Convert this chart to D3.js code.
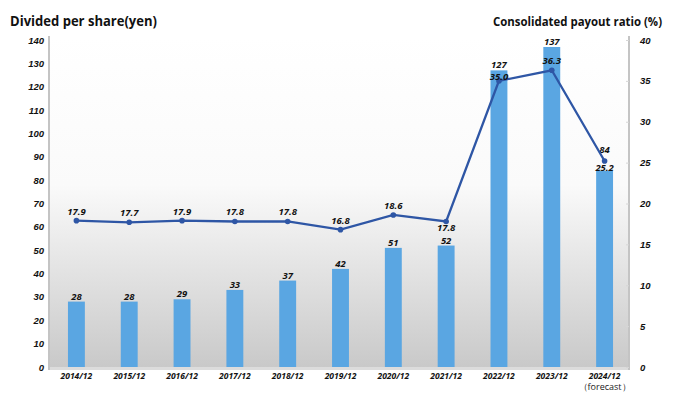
<!DOCTYPE html>
<html>
<head>
<meta charset="utf-8">
<script src="https://cdn.jsdelivr.net/npm/d3@7"></script>
<style>
  body { margin: 0; background: #fff; }
  svg { display: block; font-family: "Open Sans", sans-serif; }
</style>
</head>
<body>
<svg id="chart" width="682" height="400"></svg>
<script>
// data
const years = ["2014/12", "2015/12", "2016/12", "2017/12", "2018/12", "2019/12",
  "2020/12", "2021/12", "2022/12", "2023/12", "2024/12"];
const dividends = [28, 28, 29, 33, 37, 42, 51, 52, 127, 137, 84];
const payout = [17.9, 17.7, 17.9, 17.8, 17.8, 16.8, 18.6, 17.8, 35.0, 36.3, 25.2];
const leftTicks = [0, 10, 20, 30, 40, 50, 60, 70, 80, 90, 100, 110, 120, 130, 140];
const rightTicks = [0, 5, 10, 15, 20, 25, 30, 35, 40];
// ratio labels drawn under the point, and ones squeezed under a bar label
const belowLabel = ["2021/12", "2024/12"];
const tightLabel = ["2022/12"];

const width = 682;
const height = 400;
const plotLeft = 50, plotRight = 630, plotTop = 40, plotBottom = 367;

const svg = d3.select("#chart");

// background gradient of the plot area
const defs = svg.append("defs");
const grad = defs.append("linearGradient")
  .attr("id", "bg").attr("x1", 0).attr("y1", 0).attr("x2", 0).attr("y2", 1);
grad.append("stop").attr("offset", "0%").attr("stop-color", "#ffffff");
grad.append("stop").attr("offset", "45%").attr("stop-color", "#fafafa");
grad.append("stop").attr("offset", "100%").attr("stop-color", "#c9c9c9");

svg.append("rect")
  .attr("x", plotLeft).attr("y", plotTop - 4)
  .attr("width", plotRight - plotLeft).attr("height", plotBottom - plotTop + 4)
  .attr("fill", "url(#bg)");

// floor strip
svg.append("rect")
  .attr("x", plotLeft).attr("y", plotBottom)
  .attr("width", plotRight - plotLeft).attr("height", 3)
  .attr("fill", "#dcdcdc");

const x = d3.scaleBand()
  .domain(years)
  .range([plotLeft, plotRight + 1])
  .paddingInner(0.68)
  .paddingOuter(0.34);

const yLeft = d3.scaleLinear().domain([0, 140]).range([plotBottom, plotTop]);
const yRight = d3.scaleLinear().domain([0, 40]).range([plotBottom, plotTop]);
const cx = d => x(d) + x.bandwidth() / 2;

// axes
const leftAxis = d3.axisLeft(yLeft).tickValues(leftTicks).tickSize(0).tickPadding(5);
const gl = svg.append("g").attr("transform", `translate(${plotLeft - 1},0)`).call(leftAxis);
gl.select(".domain").attr("stroke", "#c4c4c4").attr("stroke-width", 2)
  .attr("d", `M0,${plotTop - 4}V${plotBottom + 3}`);

const rightAxis = d3.axisRight(yRight).tickValues(rightTicks).tickSize(-3).tickPadding(11);
const gr = svg.append("g").attr("transform", `translate(${plotRight - 1},0)`).call(rightAxis);
gr.select(".domain").attr("stroke", "#c4c4c4").attr("stroke-width", 2)
  .attr("d", `M0,${plotTop - 4}V${plotBottom + 3}`);
gr.selectAll(".tick line").attr("stroke", "#d6d6d6");

svg.selectAll(".tick text")
  .attr("fill", "#111")
  .style("font-size", "9.5px")
  .style("font-weight", "bold")
  .style("font-style", "italic");

// bars
svg.append("g")
  .selectAll("rect")
  .data(years)
  .join("rect")
  .attr("x", d => x(d))
  .attr("width", x.bandwidth())
  .attr("y", (d, i) => yLeft(dividends[i]))
  .attr("height", (d, i) => plotBottom - yLeft(dividends[i]))
  .attr("fill", "#5aa6e2");

// bar labels - if the bar top sits just under the ratio point, lift the label above the point
svg.append("g")
  .selectAll("text")
  .data(years)
  .join("text")
  .attr("x", cx)
  .attr("y", (d, i) => {
    const top = yLeft(dividends[i]);
    const py = yRight(payout[i]);
    if (top - py > -5 && top - py < 15) return py - 8;
    return top - 2;
  })
  .attr("text-anchor", "middle")
  .style("font-size", "9.5px")
  .style("font-weight", "bold")
  .style("font-style", "italic")
  .attr("fill", "#111")
  .text((d, i) => dividends[i]);

// payout line
const line = d3.line()
  .x((d, i) => cx(years[i]))
  .y(d => yRight(d));

svg.append("path")
  .datum(payout)
  .attr("d", line)
  .attr("fill", "none")
  .attr("stroke", "#2e56a5")
  .attr("stroke-width", 2.3);

svg.append("g")
  .selectAll("circle")
  .data(payout)
  .join("circle")
  .attr("cx", (d, i) => cx(years[i]))
  .attr("cy", d => yRight(d))
  .attr("r", 2.8)
  .attr("fill", "#2e56a5");

svg.append("g")
  .selectAll("text")
  .data(payout)
  .join("text")
  .attr("x", (d, i) => cx(years[i]))
  .attr("y", (d, i) => {
    if (belowLabel.includes(years[i])) return yRight(d) + 10;
    if (tightLabel.includes(years[i])) return yRight(d) - 1;
    return yRight(d) - 6;
  })
  .attr("text-anchor", "middle")
  .style("font-size", "9.5px")
  .style("font-weight", "bold")
  .style("font-style", "italic")
  .attr("fill", "#111")
  .text(d => d.toFixed(1));

// category labels
svg.append("g")
  .selectAll("text")
  .data(years)
  .join("text")
  .attr("x", cx)
  .attr("y", 379)
  .attr("text-anchor", "middle")
  .style("font-size", "8.5px")
  .style("font-weight", "bold")
  .style("font-style", "italic")
  .attr("fill", "#111")
  .text(d => d);

svg.append("text")
  .attr("x", cx("2024/12"))
  .attr("y", 390)
  .attr("text-anchor", "middle")
  .style("font-size", "9px")
  .attr("fill", "#222")
  .text("（forecast）");

// titles
svg.append("text")
  .attr("x", 10).attr("y", 26)
  .attr("textLength", 147)
  .attr("lengthAdjust", "spacingAndGlyphs")
  .style("font-size", "13.5px")
  .style("font-weight", "bold")
  .attr("fill", "#111")
  .text("Divided per share(yen)");

svg.append("text")
  .attr("x", 493).attr("y", 26)
  .attr("textLength", 169)
  .attr("lengthAdjust", "spacingAndGlyphs")
  .style("font-size", "12.5px")
  .style("font-weight", "bold")
  .attr("fill", "#111")
  .text("Consolidated payout ratio (%)");
</script>
</body>
</html>
